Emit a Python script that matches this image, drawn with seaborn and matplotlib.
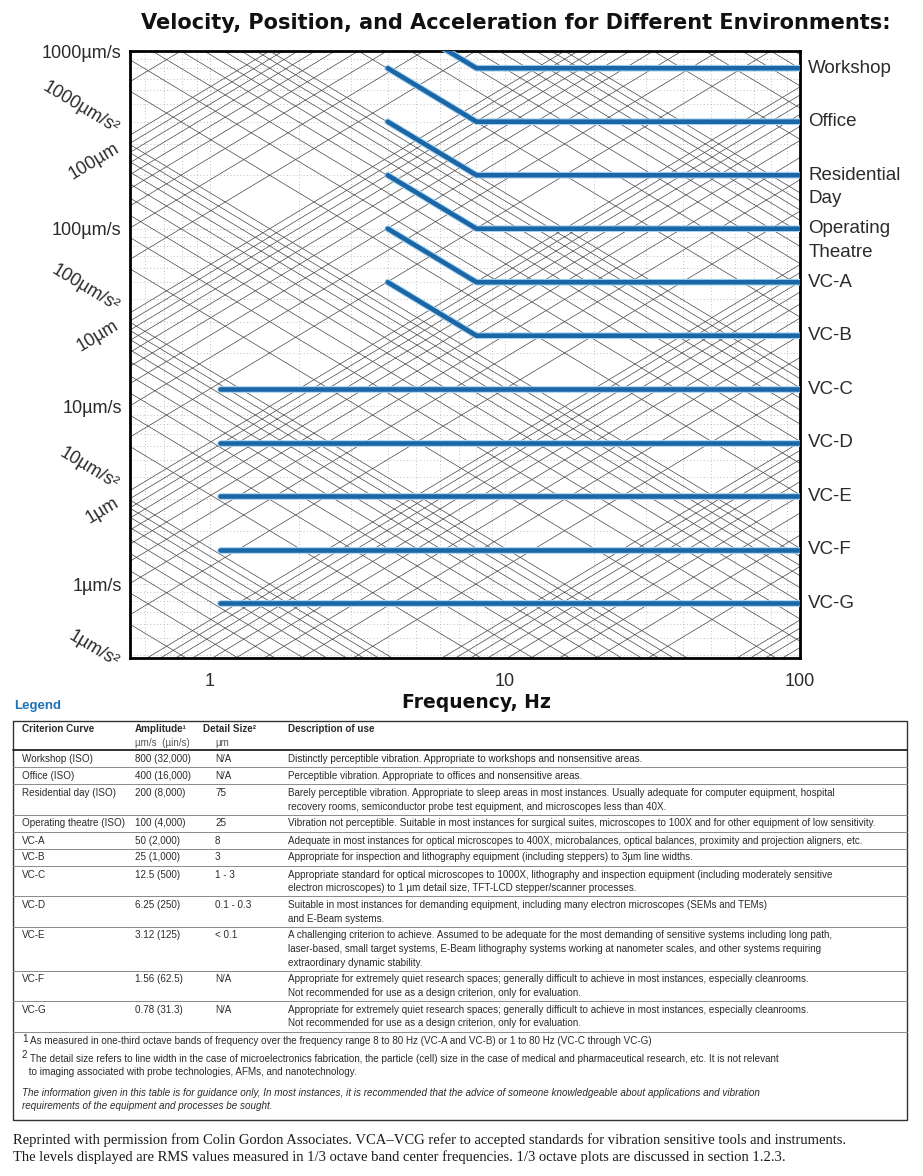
import numpy as np
import pandas as pd
import seaborn as sns
import matplotlib.pyplot as plt
from matplotlib.ticker import NullFormatter
from matplotlib.transforms import blended_transform_factory

# criterion curves (velocity levels in um/s, corner frequencies in Hz)
curve_labels = ['Workshop', 'Office', 'Residential\nDay', 'Operating\nTheatre',
                'VC-A', 'VC-B', 'VC-C', 'VC-D', 'VC-E', 'VC-F', 'VC-G']
curve_level = [800, 400, 200, 100, 50, 25, 12.5, 6.25, 3.12, 1.56, 0.78]
curve_start = [4, 4, 4, 4, 4, 4, 1.08, 1.08, 1.08, 1.08, 1.08]
curve_knee = [8, 8, 8, 8, 8, 8, 1.08, 1.08, 1.08, 1.08, 1.08]
curve_end = 100

freq_ticks = [1, 10, 100]
vel_ticks = [1, 10, 100, 1000]
vel_labels = ['1µm/s', '10µm/s', '100µm/s', '1000µm/s']
accel_marks = [1000, 100, 10, 1]
disp_marks = [100, 10, 1]

# legend table
tab_criterion = ['Workshop (ISO)', 'Office (ISO)', 'Residential day (ISO)', 'Operating theatre (ISO)',
                 'VC-A', 'VC-B', 'VC-C', 'VC-D', 'VC-E', 'VC-F', 'VC-G']
tab_amplitude = ['800 (32,000)', '400 (16,000)', '200 (8,000)', '100 (4,000)', '50 (2,000)',
                 '25 (1,000)', '12.5 (500)', '6.25 (250)', '3.12 (125)', '1.56 (62.5)', '0.78 (31.3)']
tab_detail = ['N/A', 'N/A', '75', '25', '8', '3', '1 - 3', '0.1 - 0.3', '< 0.1', 'N/A', 'N/A']
tab_desc = [
    ['Distinctly perceptible vibration. Appropriate to workshops and nonsensitive areas.'],
    ['Perceptible vibration. Appropriate to offices and nonsensitive areas.'],
    ['Barely perceptible vibration. Appropriate to sleep areas in most instances. Usually adequate for computer equipment, hospital',
     'recovery rooms, semiconductor probe test equipment, and microscopes less than 40X.'],
    ['Vibration not perceptible. Suitable in most instances for surgical suites, microscopes to 100X and for other equipment of low sensitivity.'],
    ['Adequate in most instances for optical microscopes to 400X, microbalances, optical balances, proximity and projection aligners, etc.'],
    ['Appropriate for inspection and lithography equipment (including steppers) to 3µm line widths.'],
    ['Appropriate standard for optical microscopes to 1000X, lithography and inspection equipment (including moderately sensitive',
     'electron microscopes) to 1 µm detail size, TFT-LCD stepper/scanner processes.'],
    ['Suitable in most instances for demanding equipment, including many electron microscopes (SEMs and TEMs)',
     'and E-Beam systems.'],
    ['A challenging criterion to achieve. Assumed to be adequate for the most demanding of sensitive systems including long path,',
     'laser-based, small target systems, E-Beam lithography systems working at nanometer scales, and other systems requiring',
     'extraordinary dynamic stability.'],
    ['Appropriate for extremely quiet research spaces; generally difficult to achieve in most instances, especially cleanrooms.',
     'Not recommended for use as a design criterion, only for evaluation.'],
    ['Appropriate for extremely quiet research spaces; generally difficult to achieve in most instances, especially cleanrooms.',
     'Not recommended for use as a design criterion, only for evaluation.'],
]
footnote1 = 'As measured in one-third octave bands of frequency over the frequency range 8 to 80 Hz (VC-A and VC-B) or 1 to 80 Hz (VC-C through VC-G)'
footnote2 = ['The detail size refers to line width in the case of microelectronics fabrication, the particle (cell) size in the case of medical and pharmaceutical research, etc. It is not relevant',
             ' to imaging associated with probe technologies, AFMs, and nanotechnology.']
disclaimer = ['The information given in this table is for guidance only, In most instances, it is recommended that the advice of someone knowledgeable about applications and vibration',
              'requirements of the equipment and processes be sought.']
source_note = ['Reprinted with permission from Colin Gordon Associates. VCA\u2013VCG refer to accepted standards for vibration sensitive tools and instruments.',
               'The levels displayed are RMS values measured in 1/3 octave band center frequencies. 1/3 octave plots are discussed in section 1.2.3.']

BLUE = '#1b66a6'
HALO = '#a6d3f0'
INK = '#2b2b2b'

sns.set_style('white')
plt.rcParams['font.family'] = ['Liberation Sans', 'DejaVu Sans']

W, H = 923, 1176
fig = plt.figure(figsize=(W / 100, H / 100), dpi=100)
ax = fig.add_axes([130 / W, 1 - 658 / H, 670 / W, 607 / H])
ax.set_xscale('log')
ax.set_yscale('log')
ax.set_xlim(0.535, 100)
ax.set_ylim(0.384, 1000)

# faint dotted log grid
ax.set_axisbelow(True)
ax.grid(True, which='both', ls=(0, (1, 3)), color='#ababab', lw=0.6)

# tripartite diagonals: constant acceleration and constant displacement
f_end = np.array([0.4, 150.0])
for n in range(0, 6):
    for k in range(1, 10):
        a = k * 10.0 ** n
        ax.plot(f_end, a / (2 * np.pi * f_end), color='#454545', lw=0.5, zorder=1)
for n in range(-4, 3):
    for k in range(1, 10):
        d = k * 10.0 ** n
        ax.plot(f_end, 2 * np.pi * f_end * d, color='#454545', lw=0.5, zorder=1)

# criterion curves
rows = []
for name, lev, f0, fk in zip(curve_labels, curve_level, curve_start, curve_knee):
    rows.append((name, f0, lev * fk / f0))
    rows.append((name, fk, lev))
    rows.append((name, curve_end, lev))
df = pd.DataFrame(rows, columns=['curve', 'freq', 'vel'])
sns.lineplot(data=df, x='freq', y='vel', units='curve', estimator=None, sort=False,
             color=HALO, lw=4.8, legend=False, ax=ax, zorder=3)
sns.lineplot(data=df, x='freq', y='vel', units='curve', estimator=None, sort=False,
             color=BLUE, lw=3.3, legend=False, ax=ax, zorder=4)
ax.set_xlabel('')
ax.set_ylabel('')

ax.set_xticks(freq_ticks)
ax.set_xticklabels([str(t) for t in freq_ticks])
ax.set_yticks(vel_ticks)
ax.set_yticklabels(vel_labels)
ax.xaxis.set_minor_formatter(NullFormatter())
ax.yaxis.set_minor_formatter(NullFormatter())
ax.tick_params(which='both', length=0)
ax.tick_params(axis='x', pad=11, labelsize=13, labelcolor=INK)
ax.tick_params(axis='y', pad=6, labelsize=13, labelcolor=INK)
for s in ax.spines.values():
    s.set_visible(True)
    s.set_color('black')
    s.set_linewidth(2.0)

# slanted acceleration / displacement labels on the left
px_x = 670 / np.log10(100 / 0.535)
px_y = 607 / np.log10(1000 / 0.384)
ang = np.degrees(np.arctan(px_y / px_x))
bt = blended_transform_factory(ax.transAxes, ax.transData)
for a in accel_marks:
    ax.annotate(f'{a}µm/s²', xy=(0, 0.36 * a), xycoords=bt, xytext=(-9, 0),
                textcoords='offset points', rotation=-ang, rotation_mode='anchor',
                ha='right', va='center', fontsize=13, color=INK, annotation_clip=False)
for d in disp_marks:
    ax.annotate(f'{d}µm', xy=(0, 2.9 * d), xycoords=bt, xytext=(-9, 0),
                textcoords='offset points', rotation=ang, rotation_mode='anchor',
                ha='right', va='center', fontsize=13, color=INK, annotation_clip=False)

# curve names on the right
for name, lev in zip(curve_labels, curve_level):
    for j, part in enumerate(name.split('\n')):
        ax.annotate(part, xy=(1, lev), xycoords=bt, xytext=(6, -17 * j),
                    textcoords='offset points', ha='left', va='center',
                    fontsize=13.5, color=INK, annotation_clip=False)

# overlay in pixel coordinates for titles and the legend table
lay = fig.add_axes([0, 0, 1, 1])
lay.set_xlim(0, W)
lay.set_ylim(H, 0)
lay.axis('off')

heavy = ['DejaVu Sans']
lay.text(516, 23, 'Velocity, Position, and Acceleration for Different Environments:',
         ha='center', va='center', fontsize=15, fontweight='bold', color='#111111', family=heavy)
lay.text(476, 702, 'Frequency, Hz', ha='center', va='center', fontsize=13.5,
         fontweight='bold', color='#111111', family=heavy)
lay.text(14, 706, 'Legend', ha='left', va='center', fontsize=9.5, fontweight='bold', color='#1f72b4')

TX = 7.1
x_crit, x_amp, x_det, x_desc = 22, 135, 203, 288
left, right, top, bottom = 13, 907, 721, 1120
lay.plot([left, right, right, left, left], [top, top, bottom, bottom, top], color='#333333', lw=1.0)
lay.text(x_crit, 729, 'Criterion Curve', fontsize=TX, fontweight='bold', va='center', color=INK)
lay.text(x_amp, 729, 'Amplitude¹', fontsize=TX, fontweight='bold', va='center', color=INK)
lay.text(x_amp, 743, 'µm/s  (µin/s)', fontsize=TX, va='center', color='#555555')
lay.text(x_det, 729, 'Detail Size²', fontsize=TX, fontweight='bold', va='center', color=INK)
lay.text(x_det + 12, 743, 'µm', fontsize=TX, va='center', color='#555555')
lay.text(x_desc, 729, 'Description of use', fontsize=TX, fontweight='bold', va='center', color=INK)
lay.plot([left, right], [750, 750], color='#222222', lw=1.3)

y = 750
for crit, amp, det, desc in zip(tab_criterion, tab_amplitude, tab_detail, tab_desc):
    lay.text(x_crit, y + 9, crit, fontsize=TX, va='center', color=INK)
    lay.text(x_amp, y + 9, amp, fontsize=TX, va='center', color=INK)
    lay.text(x_det + 12, y + 9, det, fontsize=TX, va='center', color=INK)
    for j, line in enumerate(desc):
        lay.text(x_desc, y + 9 + 13.5 * j, line, fontsize=TX, va='center', color=INK)
    y += 17 + 13.5 * (len(desc) - 1)
    lay.plot([left, right], [y, y], color='#8a8a8a', lw=0.7)

lay.text(x_crit, y + 7, '1', fontsize=TX, va='center', color=INK)
lay.text(x_crit + 8, y + 10, footnote1, fontsize=TX, va='center', color=INK)
lay.text(x_crit, y + 24, '2', fontsize=TX, va='center', color=INK)
for j, line in enumerate(footnote2):
    lay.text(x_crit + 8 - 4 * j, y + 27 + 13.5 * j, line, fontsize=TX, va='center', color=INK)
for j, line in enumerate(disclaimer):
    lay.text(x_crit, y + 61 + 13.5 * j, line, fontsize=TX, va='center', style='italic', color=INK)

for j, line in enumerate(source_note):
    lay.text(13, 1140 + 17 * j, line, fontsize=10.5, va='center', color='#1a1a1a',
             family=['Liberation Serif', 'DejaVu Serif'])

fig.savefig('out.png', dpi=100)
